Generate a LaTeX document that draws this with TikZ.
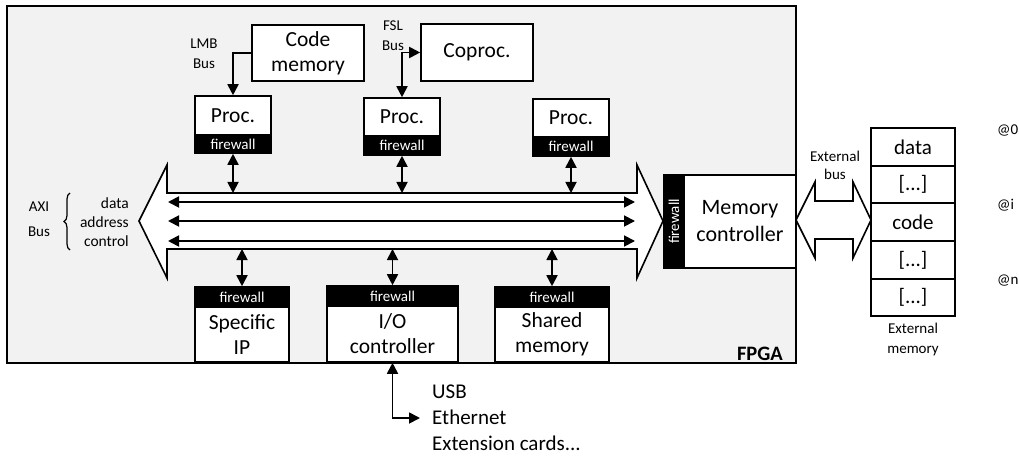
\documentclass[tikz,border=0pt]{standalone}
\usepackage{fontspec}
\setmainfont{Carlito}
\usetikzlibrary{arrows.meta,decorations.pathreplacing}
\definecolor{fpgagray}{HTML}{F2F2F2}
\tikzset{
  box/.style={draw=black, line width=1.6pt, fill=white, inner sep=0pt, align=center, font=\fontsize{21.5}{25}\selectfont},
  fwbox/.style={draw=black, line width=1.6pt, fill=black, text=white, inner sep=0pt, font=\fontsize{15}{16}\selectfont},
  cell/.style={draw=black, line width=1.6pt, fill=white, inner sep=0pt, minimum width=84pt, font=\fontsize{21}{22}\selectfont},
  lbl/.style={inner sep=0pt, align=center, font=\fontsize{15}{20}\selectfont},
  tipA/.tip={Triangle[length=11pt,width=11pt]},
  conn/.style={line width=1.8pt, tipA-tipA},
  oneway/.style={line width=1.8pt, -tipA},
  shapeline/.style={draw=black, line width=1.6pt, fill=white, line join=miter},
}
\begin{document}
\begin{tikzpicture}[x=1pt,y=-1pt]
\useasboundingbox (0,0) rectangle (1019,457);
% FPGA
\draw[line width=2.4pt, fill=fpgagray] (7,6) rectangle (796,363);
\node[anchor=base east, inner sep=0pt, font=\fontsize{20.5}{22}\selectfont\bfseries] (fpga) at (783,360) {FPGA};

% top blocks
\node[box, minimum width=112pt, minimum height=56pt] (cm) at (308,53) {Code\\memory};
\node[box, minimum width=112pt, minimum height=57pt] (cop) at (477,52.5) {Coproc.};

\node[box, minimum width=76pt, minimum height=39pt] (p1) at (233,115.5) {Proc.};
\node[fwbox, minimum width=76pt, minimum height=18pt] (f1) at (233,144) {firewall};
\node[box, minimum width=76pt, minimum height=38pt] (p2) at (402,117) {Proc.};
\node[fwbox, minimum width=76pt, minimum height=19pt] (f2) at (402,145.5) {firewall};
\node[box, minimum width=76pt, minimum height=38pt] (p3) at (571,118) {Proc.};
\node[fwbox, minimum width=76pt, minimum height=19pt] (f3) at (571,146.5) {firewall};

\node[lbl] (lmb) at (204,54) {LMB\\Bus};
\node[lbl] (fsl) at (393,36) {FSL\\Bus};
\draw[oneway] (cm.west) -| (p1.north);
\draw[conn] (p2.north) |- (cop.west);

% AXI bus
\draw[shapeline] (167,193) -- (637,193) -- (637,165) -- (663,221) -- (637,278) -- (637,249)
  -- (167,249) -- (167,278) -- (139,221) -- (167,165) -- cycle;
\coordinate (bustop) at (0,193);
\coordinate (busbot) at (0,249);
\coordinate (dL) at (168,202); \coordinate (dR) at (635,202);
\coordinate (aL) at (168,221); \coordinate (aR) at (635,221);
\coordinate (cL) at (168,241); \coordinate (cR) at (635,241);
\draw[conn] (dL) -- (dR);
\draw[conn] (aL) -- (aR);
\draw[conn] (cL) -- (cR);

\node[lbl, font=\fontsize{15}{25}\selectfont] (axi) at (39,219) {AXI\\Bus};
\draw[line width=1.2pt, decorate, decoration={brace, amplitude=6pt}] (70,250) -- (70,193);
\node[inner sep=0pt, anchor=east, align=right, font=\fontsize{15.5}{19}\selectfont] (sig) at (129,222) {data\\address\\control};

\draw[conn] (f1.south) -- (f1.south |- bustop);
\draw[conn] (f2.south) -- (f2.south |- bustop);
\draw[conn] (f3.south) -- (f3.south |- bustop);

% bottom blocks
\node[fwbox, minimum width=94pt, minimum height=20pt] (fs) at (242,297) {firewall};
\node[box, minimum width=94pt, minimum height=55pt] (sip) at (242,334.5) {Specific\\IP};
\node[fwbox, minimum width=131pt, minimum height=20pt] (fio) at (392.5,296) {firewall};
\node[box, minimum width=131pt, minimum height=56pt] (io) at (392.5,334) {I/O\\controller};
\node[fwbox, minimum width=114pt, minimum height=20pt] (fsm) at (552,297) {firewall};
\node[box, minimum width=114pt, minimum height=55pt] (sm) at (552,334.5) {Shared\\memory};

\draw[conn] (fs.north) -- (fs.north |- busbot);
\draw[conn] (fio.north) -- (fio.north |- busbot);
\draw[conn] (fsm.north) -- (fsm.north |- busbot);

\coordinate (ext) at (420,418);
\draw[conn] (io.south) |- (ext);
\node[inner sep=0pt, anchor=west, align=left, font=\fontsize{21}{26}\selectfont] (usb) at (432,418) {USB\\Ethernet\\Extension cards...};

% memory controller
\node[box, minimum width=112pt, minimum height=93pt, font=\fontsize{22}{27}\selectfont] (mc) at (740,221.5) {Memory\\controller};
\node[fwbox, rotate=90, minimum width=93pt, minimum height=20pt] (mcfw) at (674,221.5) {firewall};

% external bus
\draw[shapeline] (796,220) -- (815,182) -- (815,201) -- (853,201) -- (853,182) -- (871,220)
  -- (853,258) -- (853,239) -- (815,239) -- (815,258) -- cycle;
\node[lbl, font=\fontsize{15}{18}\selectfont] (eb) at (835,165) {External\\bus};

% external memory
\node[cell, minimum height=38pt] (m1) at (913,147) {data};
\node[cell, minimum height=37pt] (m2) at (913,184.5) {[...]};
\node[cell, minimum height=38pt] (m3) at (913,222) {code};
\node[cell, minimum height=38pt] (m4) at (913,260) {[...]};
\node[cell, minimum height=37pt] (m5) at (913,297.5) {[...]};
\node[lbl] (em) at (913,339) {External\\memory};
\node[inner sep=0pt, anchor=west, font=\fontsize{15}{16}\selectfont] (a0) at (997,130) {@0};
\node[inner sep=0pt, anchor=west, font=\fontsize{15}{16}\selectfont] (ai) at (997,205) {@i};
\node[inner sep=0pt, anchor=west, font=\fontsize{15}{16}\selectfont] (an) at (997,281) {@n};
\end{tikzpicture}
\end{document}
